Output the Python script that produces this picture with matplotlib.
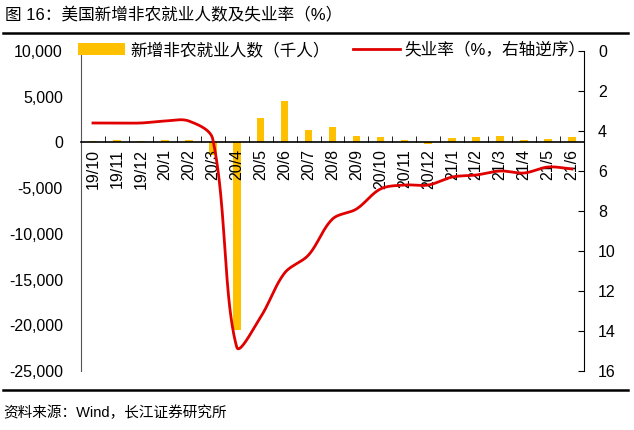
import numpy as np
import matplotlib
matplotlib.use("Agg")
import matplotlib.pyplot as plt
from matplotlib.lines import Line2D

plt.rcParams['font.family'] = ['Liberation Sans', 'Noto Sans CJK SC', 'DejaVu Sans']

# data
months = ['19/10', '19/11', '19/12', '20/1', '20/2', '20/3', '20/4', '20/5', '20/6',
          '20/7', '20/8', '20/9', '20/10', '20/11', '20/12', '21/1', '21/2', '21/3',
          '21/4', '21/5', '21/6']
payrolls = [150, 250, 180, 270, 320, -1400, -20500, 2700, 4500, 1350, 1650, 750,
            600, 250, -150, 450, 600, 650, 250, 400, 550]
unemp = [3.6, 3.6, 3.6, 3.5, 3.5, 4.4, 14.8, 13.3, 11.1, 10.2, 8.4, 7.9,
         6.9, 6.7, 6.7, 6.3, 6.2, 6.0, 6.1, 5.8, 5.9]


def smooth(xs, ys, sx=24.0, sy=20.0, n=40):
    # smoothed line like excel: bezier segments, tangents weighted by chord length (pixel space)
    p = np.column_stack([np.asarray(xs) * sx, np.asarray(ys) * sy]).astype(float)
    p = np.vstack([p[0], p, p[-1]])
    out = []
    for i in range(1, len(p) - 2):
        p0, p1, p2, p3 = p[i - 1], p[i], p[i + 1], p[i + 2]
        d01 = np.hypot(*(p1 - p0)) + 1e-9
        d12 = np.hypot(*(p2 - p1)) + 1e-9
        d23 = np.hypot(*(p3 - p2)) + 1e-9
        b1 = p1 + (p2 - p0) * d12 / (d01 + d12) / 3
        b2 = p2 - (p3 - p1) * d12 / (d12 + d23) / 3
        t = np.linspace(0, 1, n)[:, None]
        seg = ((1 - t) ** 3) * p1 + 3 * ((1 - t) ** 2) * t * b1 + 3 * (1 - t) * t ** 2 * b2 + t ** 3 * p2
        out.append(seg)
    out = np.vstack(out)
    return out[:, 0] / sx, out[:, 1] / sy


fig = plt.figure(figsize=(6.34, 4.3), dpi=100)
ax = fig.add_axes([81 / 634, 1 - 371 / 430, 503 / 634, 320 / 430])
ax2 = ax.twinx()

x = np.arange(len(months))
bars = ax.bar(x, payrolls, width=0.32, color='#FFC000', label='新增非农就业人数（千人）')
lx, ly = smooth(x, unemp)
line, = ax2.plot(lx, ly, color='#E00000', lw=2, label='失业率（%，右轴逆序）')

ax.set_xlim(-0.5, len(months) - 0.5)
ax.set_ylim(-25000, 10000)
ax.set_yticks(np.arange(-25000, 10001, 5000))
ax.set_yticklabels([f'{v:,}' for v in range(-25000, 10001, 5000)], fontsize=11.5)
ax.tick_params(axis='y', length=0, pad=13)

ax.spines['bottom'].set_position(('data', 0))
ax.spines['top'].set_visible(False)
ax.spines['right'].set_visible(False)
ax.spines['left'].set_color('#555555')
ax.spines['bottom'].set_linewidth(1.2)
ax.set_xticks(x)
ax.set_xticklabels(months, rotation=90, fontsize=11.5)
ax.set_xticks(np.arange(-0.5, len(months), 1), minor=True)
ax.tick_params(axis='x', which='major', length=0, pad=5)
ax.tick_params(axis='x', which='minor', direction='in', length=4)

ax2.set_ylim(16, 0)
ax2.set_yticks(range(0, 17, 2))
ax2.tick_params(axis='y', direction='in', length=4, labelsize=11.5, pad=10)
ax2.spines['top'].set_visible(False)
ax2.spines['left'].set_visible(False)
ax2.spines['bottom'].set_visible(False)

fig.legend(handles=[bars, line], loc='center', bbox_to_anchor=(332 / 634, 1 - 50 / 430),
           ncol=2, frameon=False, fontsize=12, handlelength=2.8, columnspacing=1.4,
           handletextpad=0.3)

fig.text(5 / 634, 1 - 15 / 430, '图 16：美国新增非农就业人数及失业率（%）', fontsize=12,
         va='center', ha='left')
fig.add_artist(Line2D([3 / 634, 628 / 634], [1 - 33 / 430, 1 - 33 / 430], color='black', lw=1.8))
fig.add_artist(Line2D([3 / 634, 628 / 634], [1 - 390 / 430, 1 - 390 / 430], color='black', lw=1.8))
fig.text(3 / 634, 1 - 413 / 430, '资料来源：Wind，长江证券研究所', fontsize=10.5,
         va='center', ha='left')

fig.savefig('out.png', dpi=100)
